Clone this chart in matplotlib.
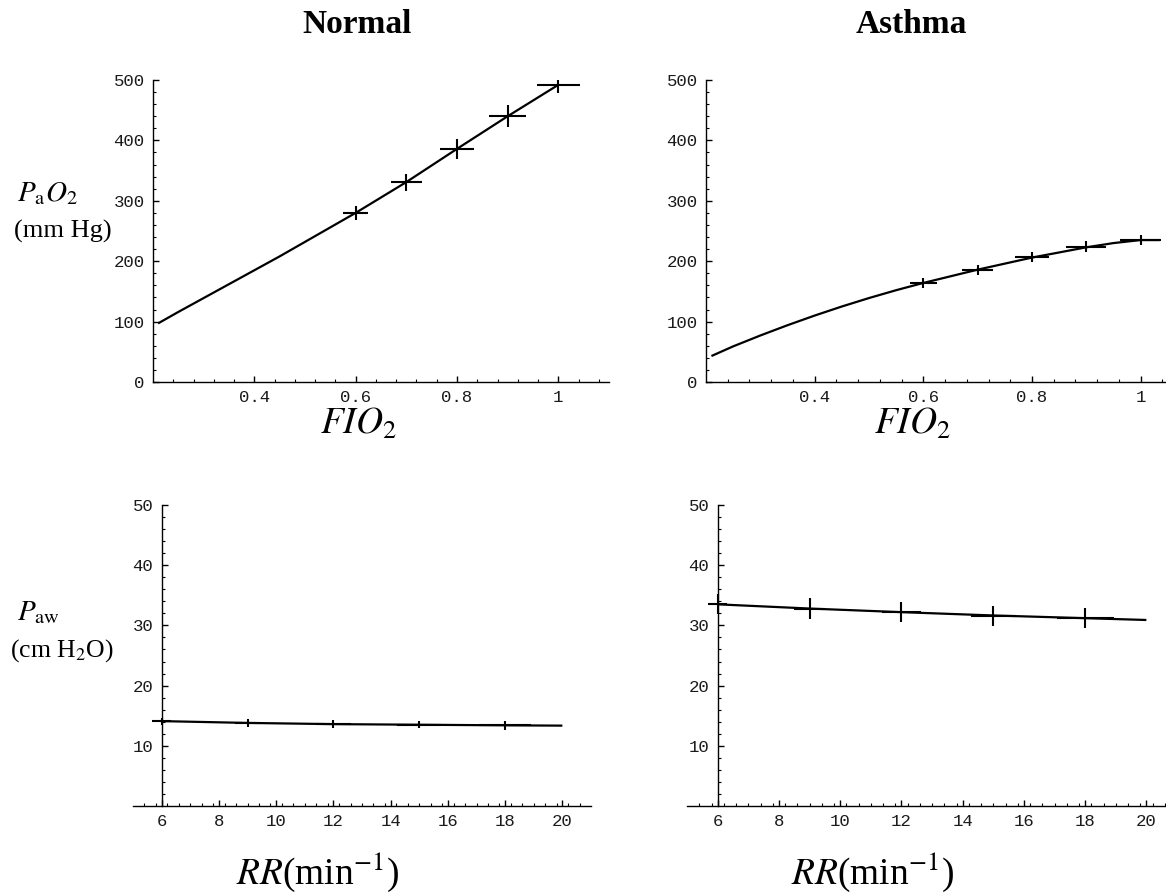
import matplotlib
matplotlib.use("Agg")
import matplotlib.pyplot as plt
from matplotlib.ticker import FixedLocator

plt.rcParams['mathtext.fontset'] = 'stix'
plt.rcParams['font.family'] = 'Liberation Mono'

# ---------------- data ----------------
fio2_pts = [0.6, 0.7, 0.8, 0.9, 1.0]
normal_pao2 = [280, 331, 386, 440, 492]
normal_pao2_xerr = [0.025, 0.030, 0.033, 0.037, 0.042]
normal_pao2_yerr = [11, 14, 16, 18, 14]
normal_curve_x = [0.21, 0.25, 0.3, 0.35, 0.4, 0.45, 0.5, 0.55, 0.6, 0.7, 0.8, 0.9, 1.0]
normal_curve_y = [97, 116, 139, 162, 185, 208, 232, 256, 280, 331, 386, 440, 492]

asthma_pao2 = [164, 185, 207, 224, 235]
asthma_pao2_xerr = [0.025, 0.029, 0.032, 0.037, 0.038]
asthma_pao2_yerr = [8, 8, 9, 9, 9]
asthma_curve_x = [0.21, 0.25, 0.3, 0.35, 0.4, 0.45, 0.5, 0.55, 0.6, 0.7, 0.8, 0.9, 0.95, 1.0, 1.035]
asthma_curve_y = [43, 59, 77, 94, 110, 125, 139, 152, 164, 186, 206, 223, 230, 235, 235]

rr_pts = [6, 9, 12, 15, 18]
normal_paw = [14.1, 13.8, 13.6, 13.5, 13.4]
normal_paw_xerr = [0.32, 0.43, 0.6, 0.76, 0.9]
normal_paw_yerr = [0.6, 0.7, 0.7, 0.6, 0.7]
normal_paw_curve_x = [6, 9, 12, 15, 18, 20]
normal_paw_curve_y = [14.1, 13.8, 13.6, 13.5, 13.4, 13.35]

asthma_paw = [33.5, 32.8, 32.2, 31.6, 31.2]
asthma_paw_xerr = [0.32, 0.5, 0.63, 0.74, 0.93]
asthma_paw_yerr = [1.66, 1.7, 1.66, 1.66, 1.66]
asthma_paw_curve_x = [6, 9, 12, 15, 18, 20]
asthma_paw_curve_y = [33.5, 32.8, 32.2, 31.65, 31.2, 30.9]

fio2_ticks = [0.4, 0.6, 0.8, 1.0]
fio2_ticklabels = ['0.4', '0.6', '0.8', '1']
pao2_ticks = [0, 100, 200, 300, 400, 500]
pao2_ticklabels = ['0', '100', '200', '300', '400', '500']
rr_ticks = [6, 8, 10, 12, 14, 16, 18, 20]
rr_ticklabels = ['6', '8', '10', '12', '14', '16', '18', '20']
paw_ticks = [10, 20, 30, 40, 50]
paw_ticklabels = ['10', '20', '30', '40', '50']

W, H = 1166, 896
fig = plt.figure(figsize=(W / 100, H / 100), dpi=100)


def px_axes(x0, x1, y_bottom, y_top):
    return fig.add_axes([x0 / W, 1 - y_bottom / H, (x1 - x0) / W, (y_bottom - y_top) / H])


def style(ax, ticks_x, labels_x, minor_x, ticks_y, labels_y, minor_y, yaxis_at=None):
    for s in ['top', 'right']:
        ax.spines[s].set_visible(False)
    for s in ['left', 'bottom']:
        ax.spines[s].set_linewidth(1.0)
        ax.spines[s].set_color('black')
    if yaxis_at is not None:
        ax.spines['left'].set_position(('data', yaxis_at))
    ax.xaxis.set_major_locator(FixedLocator(ticks_x))
    ax.set_xticklabels(labels_x)
    ax.yaxis.set_major_locator(FixedLocator(ticks_y))
    ax.set_yticklabels(labels_y)
    ax.xaxis.set_minor_locator(FixedLocator(minor_x))
    ax.yaxis.set_minor_locator(FixedLocator(minor_y))
    ax.tick_params(which='major', direction='in', length=4, width=1.0, labelsize=12.5,
                   pad=6, labelcolor='#1a1a1a')
    ax.tick_params(which='minor', direction='in', length=2, width=0.8)
    ax.patch.set_alpha(0)


line_kw = dict(color='black', lw=1.6, solid_capstyle='butt', solid_joinstyle='round')
err_kw = dict(fmt='none', ecolor='black', elinewidth=1.5, capsize=0)

minor_fio2 = [round(0.2 + 0.04 * i, 2) for i in range(1, 23)]
minor_pao2 = [v for v in range(20, 500, 20) if v % 100]
minor_rr = [round(5 + 0.4 * i, 1) for i in range(1, 40)]
minor_paw = [v for v in range(2, 50, 2) if v % 10]

# top-left
ax1 = px_axes(153, 609, 382, 80)
ax1.plot(normal_curve_x, normal_curve_y, **line_kw)
ax1.errorbar(fio2_pts, normal_pao2, xerr=normal_pao2_xerr, yerr=normal_pao2_yerr, **err_kw)
ax1.set_xlim(0.2, 1.1)
ax1.set_ylim(0, 500)
style(ax1, fio2_ticks, fio2_ticklabels, minor_fio2, pao2_ticks, pao2_ticklabels, minor_pao2)

# top-right
ax2 = px_axes(706, 1195, 382, 80)
ax2.plot(asthma_curve_x, asthma_curve_y, **line_kw)
ax2.errorbar(fio2_pts, asthma_pao2, xerr=asthma_pao2_xerr, yerr=asthma_pao2_yerr, **err_kw)
ax2.set_xlim(0.2, 1.1)
ax2.set_ylim(0, 500)
style(ax2, fio2_ticks, fio2_ticklabels, minor_fio2, pao2_ticks, pao2_ticklabels, minor_pao2)

# bottom-left
ax3 = px_axes(133, 591, 806, 505)
ax3.plot(normal_paw_curve_x, normal_paw_curve_y, **line_kw)
ax3.errorbar(rr_pts, normal_paw, xerr=normal_paw_xerr, yerr=normal_paw_yerr, **err_kw)
ax3.set_xlim(5, 21)
ax3.set_ylim(0, 50)
style(ax3, rr_ticks, rr_ticklabels, minor_rr, paw_ticks, paw_ticklabels, minor_paw, yaxis_at=6)

# bottom-right
ax4 = px_axes(687, 1177, 806, 505)
ax4.plot(asthma_paw_curve_x, asthma_paw_curve_y, **line_kw)
ax4.errorbar(rr_pts, asthma_paw, xerr=asthma_paw_xerr, yerr=asthma_paw_yerr, **err_kw)
ax4.set_xlim(5, 21)
ax4.set_ylim(0, 50)
style(ax4, rr_ticks, rr_ticklabels, minor_rr, paw_ticks, paw_ticklabels, minor_paw, yaxis_at=6)

serif = 'Liberation Serif'


def ftext(x, y, s, **kw):
    fig.text(x / W, 1 - y / H, s, family=serif, **kw)


ftext(357, 33, 'Normal', fontsize=24, fontweight='bold', ha='center', va='baseline')
ftext(911, 33, 'Asthma', fontsize=24, fontweight='bold', ha='center', va='baseline')

ftext(358, 434, r'$FIO_2$', fontsize=27, ha='center', va='baseline')
ftext(912, 434, r'$FIO_2$', fontsize=27, ha='center', va='baseline')

ftext(318, 884, r'$RR$(min$^{-1}$)', fontsize=27, ha='center', va='baseline')
ftext(873, 884, r'$RR$(min$^{-1}$)', fontsize=27, ha='center', va='baseline')

ftext(17, 201, r'$P_{\mathrm{a}}O_2$', fontsize=21, ha='left', va='baseline')
ftext(14, 238, '(mm Hg)', fontsize=19, ha='left', va='baseline')

ftext(17, 620, r'$P_{\mathrm{aw}}$', fontsize=21, ha='left', va='baseline')
ftext(10, 657, r'(cm H$_2$O)', fontsize=18.5, ha='left', va='baseline')

fig.savefig('out.png', dpi=100)
